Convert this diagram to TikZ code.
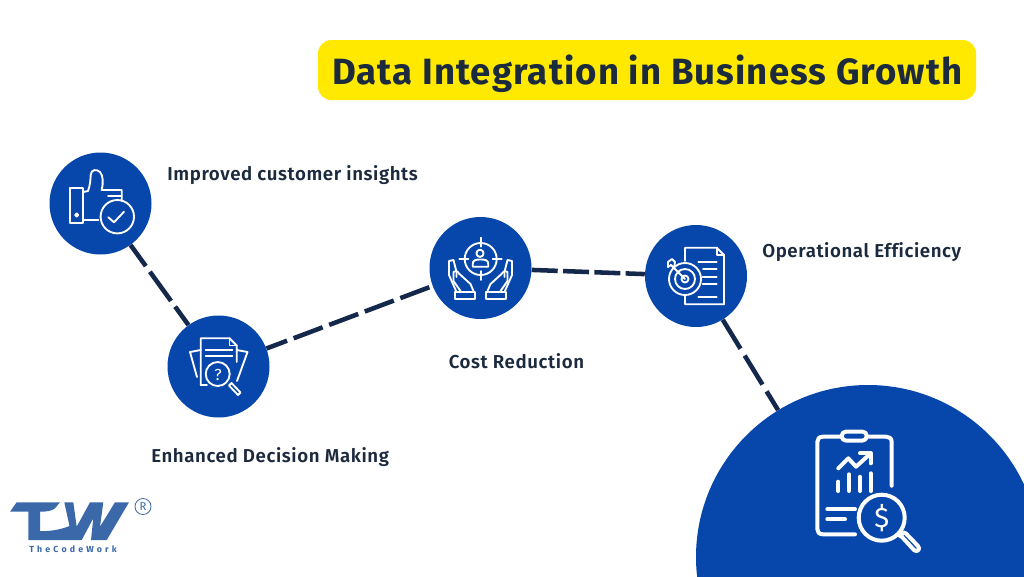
\documentclass[tikz,border=0pt]{standalone}
\usepackage{fontspec}
\setmainfont{Fira Sans}
\newfontfamily\semib[LetterSpace=3.2,Ligatures={NoCommon}]{Fira Sans SemiBold}
\newfontfamily\titlef[LetterSpace=3]{Fira Sans}
\newfontfamily\logof[LetterSpace=36]{Fira Sans}
\definecolor{cblue}{HTML}{0747AB}
\definecolor{cdark}{HTML}{14284B}
\definecolor{ctext}{HTML}{1C2A3E}
\definecolor{cyel}{HTML}{FFE900}
\definecolor{clogo}{HTML}{3A68A9}
\tikzset{
 hub/.style={circle,fill=cblue,draw=none,minimum size=76.5pt,inner sep=0pt},
 bighub/.style={circle,fill=cblue,draw=none,minimum size=258pt,inner sep=0pt},
 link/.style={draw=cdark,line width=3.4pt},
 lab/.style={anchor=west,text=ctext,font=\fontsize{14pt}{16pt}\selectfont\semib,inner sep=0pt},
 ico/.style={draw=white,line width=1.4pt,line join=round,line cap=round},
 icob/.style={draw=white,line width=3pt,line join=round,line cap=round},
}
\begin{document}
\begin{tikzpicture}[x=0.75pt,y=-0.75pt]
\useasboundingbox (0,0) rectangle (1024,576);
\clip (0,0) rectangle (1024,576);
\fill[white] (0,0) rectangle (1024,576);
\fill[cyel,rounded corners=10pt] (318,40) rectangle (976,100);
\node (title) at (647.5,74) [text=ctext,inner sep=0pt,font=\fontsize{27.4pt}{30pt}\selectfont\titlef\bfseries] {Data Integration in Business Growth};
\node[hub] (a) at (100.5,203.5) {};
\node[hub] (b) at (218.5,366.5) {};
\node[hub] (c) at (480.5,268) {};
\node[hub] (d) at (696,276) {};
\node[bighub] (e) at (868,557) {};
\draw[link,dash pattern=on 27pt off 5.25pt,dash phase=7.5pt] (a) -- (b);
\draw[link,dash pattern=on 23.25pt off 5.25pt,dash phase=6.75pt] (b) -- (c);
\draw[link,dash pattern=on 19.5pt off 4pt] (c) -- (d);
\draw[link,dash pattern=on 25.5pt off 6pt] (d) -- (e);
\node[lab] (la) at (167,175) {Improved customer insights};
\node[lab] (lb) at (151,457) {Enhanced Decision Making};
\node[lab] (lc) at (448.5,361.5) {Cost Reduction};
\node[lab] (ld) at (762,252) {Operational Efficiency};
% thumb icon
\draw[ico] (70,188) rectangle (83.3,223);
\draw[ico] (76.7,215) circle (1.6);
\draw[ico] (83.3,192) -- (88,191) .. controls (90,186) and (90.5,180) .. (90.7,175) .. controls (91,169) and (97,169) .. (100,172) .. controls (103,175) and (103.5,183) .. (101.7,190) -- (121.7,190) -- (121.7,201);
\draw[ico] (83.3,220) -- (98.3,220);
\draw[ico] (117.3,216.7) circle (16.7);
\draw[ico] (108.3,217.3) -- (114,222.3) -- (124,211.7);
\draw[ico] (108,196) -- (121,196);
% doc question icon
\draw[ico] (200.7,385) -- (200.7,338.3) -- (229.5,338.3) -- (236.7,345.5) -- (236.7,362);
\draw[ico] (200.7,385) -- (207,385);
\draw[ico] (229.5,338.3) -- (229.5,345.5) -- (236.7,345.5);
\draw[ico] (205.7,350) -- (232.3,350) (205.7,356) -- (232.3,356);
\draw[ico] (200.7,350) -- (190,352) -- (197,377);
\draw[ico] (236.7,350) -- (247.5,352) -- (237,381);
\draw[ico] (217.7,374) circle (12);
\draw[ico] (229,385.5) -- (238,395) -- (240.5,392.5) -- (231.5,383) -- cycle;
\node (q) at (218,374.5) [text=white,inner sep=0pt,font=\fontsize{12pt}{12pt}\selectfont] {?};
% hands icon
\draw[ico] (480.7,259) circle (16);
\draw[ico] (480.7,237.7) -- (480.7,246.7) (480.7,271) -- (480.7,280) (459.3,259) -- (468.3,259) (492.7,259) -- (501.7,259);
\draw[ico] (480,253.3) circle (3.6);
\draw[ico] (472.7,266.7) -- (472.7,264) .. controls (472.7,260) and (476,259.5) .. (480.5,259.5) .. controls (485,259.5) and (488.3,260) .. (488.3,264) -- (488.3,266.7) -- cycle;
\foreach \s in {1,-1}{
\begin{scope}[shift={(480.5,0)},xscale=\s]
\draw[ico] (-25.5,292.3) rectangle (-5.5,299);
\draw[ico] (-24,292) -- (-31.5,275) -- (-31.5,261) -- (-27,260) -- (-24,272) -- (-24,277);
\draw[ico] (-20,291) -- (-27,281) -- (-27,272) .. controls (-24,270) and (-22,272) .. (-21,274) -- (-10,284) -- (-7,291);
\end{scope}}
% target doc icon
\draw[ico] (685,261) -- (685,247.7) -- (716.7,247.7) -- (724,255) -- (724,304.3) -- (685,304.3) -- (685,295);
\draw[ico] (716.7,247.7) -- (716.7,255) -- (724,255);
\draw[ico] (685,279) circle (16);
\draw[ico] (685,279) circle (10);
\draw[ico] (685,279) circle (3.5);
\draw[ico] (685,279) -- (671,265);
\draw[ico] (671,265) -- (668,267) -- (668,262) -- (672,259) -- (675,262) -- (674,268);
\draw[ico] (698.3,261.7) -- (716.7,261.7) (703,269.3) -- (716.7,269.3) (702.7,276.7) -- (716.7,276.7) (702.7,284) -- (716.7,284) (698.3,296.7) -- (716.7,296.7);
% big icon
\draw[icob] (891.7,485.7) -- (891.7,442) .. controls (891.7,438) and (889,436.7) .. (886,436.7) -- (866.7,436.7) (841.7,436.7) -- (823,436.7) .. controls (819,436.7) and (817.3,439) .. (817.3,442) -- (817.3,529) .. controls (817.3,532) and (819,534.3) .. (823,534.3) -- (855,534.3);
\draw[icob,rounded corners=3pt] (841.7,431.7) rectangle (866.7,440.5);
\draw[icob] (838.3,468.3) -- (848.3,458.3) -- (856,466.7) -- (870.7,453.3);
\draw[icob] (860,453.3) -- (870.7,453.3) -- (870.7,463.3);
\draw[icob] (838.3,481.7) -- (838.3,491) (849,474.3) -- (849,491) (860,476.7) -- (860,491) (870.7,473.3) -- (870.7,491);
\draw[icob] (827.3,509.3) -- (855,509.3) (827.3,519.3) -- (845,519.3);
\draw[icob] (881.7,517.7) circle (23);
\draw[icob] (898,534.5) -- (902,537) -- (914,550) .. controls (917,553) and (921,549) .. (918,546) -- (906,533.5) .. controls (903,531) and (900,534) .. (902,537);
\node (dollar) at (881.7,518) [text=white,inner sep=0pt,font=\fontsize{21pt}{21pt}\selectfont] {\$};
% logo
\fill[clogo] (16.7,502.3) -- (60,502.3) -- (55,508.3) .. controls (52,511) and (46,511.7) .. (40,511.7) -- (40,531) .. controls (48,531.5) and (60,530) .. (69.5,526) -- (64.3,502.3) -- (73.3,502.3) -- (76.7,526.7) -- (90,502.3) -- (103.3,502.3) -- (100,526.7) -- (115,502.3) -- (129,502.3) -- (106.7,540) -- (91,540) -- (93.3,518.3) -- (81.7,540) -- (28.3,540) -- (28.3,511.7) -- (10,511.7) -- cycle;
\draw[clogo,line width=0.6pt] (143,506.5) circle (8);
\node (reg) at (143,506.5) [text=clogo,inner sep=0pt,font=\fontsize{8.5pt}{9pt}\selectfont] {R};
\node (brand) at (73,549) [text=clogo,inner sep=0pt,font=\fontsize{6.6pt}{8pt}\selectfont\logof\bfseries] {TheCodeWork};
\end{tikzpicture}
\end{document}
